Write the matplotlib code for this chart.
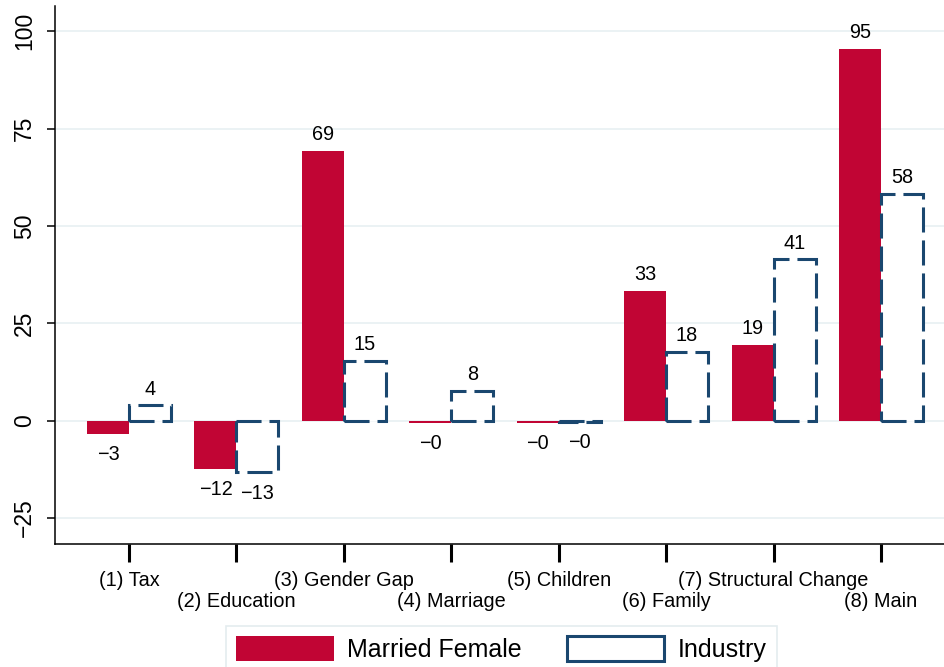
import numpy as np
import matplotlib
matplotlib.use("Agg")
import matplotlib.pyplot as plt
from matplotlib.patches import Patch

plt.rcParams["font.family"] = ["Liberation Sans", "DejaVu Sans"]

# Decomposition results by counterfactual
categories = ["(1) Tax", "(2) Education", "(3) Gender Gap", "(4) Marriage",
              "(5) Children", "(6) Family", "(7) Structural Change", "(8) Main"]
married_female = [-3.4, -12.4, 69.3, -0.5, -0.5, 33.3, 19.4, 95.4]
industry = [3.9, -13.3, 15.4, 7.6, -0.4, 17.6, 41.4, 58.2]
yticks = [-25, 0, 25, 50, 75, 100]

RED = "#c10534"
NAVY = "#1a476f"
GRID = "#e8f0f2"
W = 945
H = 667

fig = plt.figure(figsize=(W / 100, H / 100), dpi=100)
ax = fig.add_axes([55.3 / W, (H - 543.6) / H, (W - 55.3) / W, (543.6 - 6.4) / H])

x = np.arange(len(categories))
bw = 0.39
ax.bar(x - bw / 2, married_female, bw, color=RED, linewidth=0, zorder=2)
ind_bars = ax.bar(x + bw / 2, industry, bw, facecolor="white", edgecolor=NAVY,
                  linewidth=2.2, zorder=3)
for b in ind_bars:
    b.set_linestyle((0, (8.2, 2.6)))

# value labels above positive bars, below negative ones
def fmt(v):
    return f"{v:.0f}".replace("-", "\u2212")

for xs, vals in ((x - bw / 2, married_female), (x + bw / 2, industry)):
    for xi, v in zip(xs, vals):
        if v >= 0:
            ax.annotate(fmt(v), (xi, v), xytext=(0, 5), textcoords="offset points",
                        ha="center", va="bottom", fontsize=14.3)
        else:
            ax.annotate(fmt(v), (xi, v), xytext=(0, -8), textcoords="offset points",
                        ha="center", va="top", fontsize=14.3)

ax.set_xlim(-0.685, 7.595)
ax.set_ylim(-31.57, 106.4)
ax.set_yticks(yticks)
ax.yaxis.grid(True, color=GRID, linewidth=1.2)
ax.set_axisbelow(True)

# stagger category labels over two rows: odd ones as major, even ones as minor ticks
ax.set_xticks(x[::2])
ax.set_xticklabels(categories[::2], fontsize=14.3)
ax.set_xticks(x[1::2], minor=True)
ax.set_xticklabels(categories[1::2], minor=True, fontsize=14.3)
ax.tick_params(axis="x", which="major", length=13, width=2.2, pad=7)
ax.tick_params(axis="x", which="minor", length=13, width=2.2, pad=22)
ax.tick_params(axis="y", length=6, width=1.1, pad=8, labelsize=16.5)
for lab in ax.get_yticklabels():
    lab.set_rotation(90)
    lab.set_va("center")

for s in ("top", "right"):
    ax.spines[s].set_visible(False)
for s in ("left", "bottom"):
    ax.spines[s].set_linewidth(1.1)

handles = [Patch(facecolor=RED, edgecolor="none"),
           Patch(facecolor="white", edgecolor=NAVY, linewidth=2.2)]
leg = fig.legend(handles, ["Married Female", "Industry"], loc="upper left",
                 bbox_to_anchor=(226 / W, 1 - 626 / H), ncol=2, fontsize=18,
                 frameon=True, fancybox=False, edgecolor="#dde7eb",
                 handlelength=3.9, handleheight=1.15, handletextpad=0.55,
                 columnspacing=1.8, borderpad=0.4, borderaxespad=0)
leg.get_frame().set_linewidth(1.2)

fig.savefig("out.png", dpi=100)
